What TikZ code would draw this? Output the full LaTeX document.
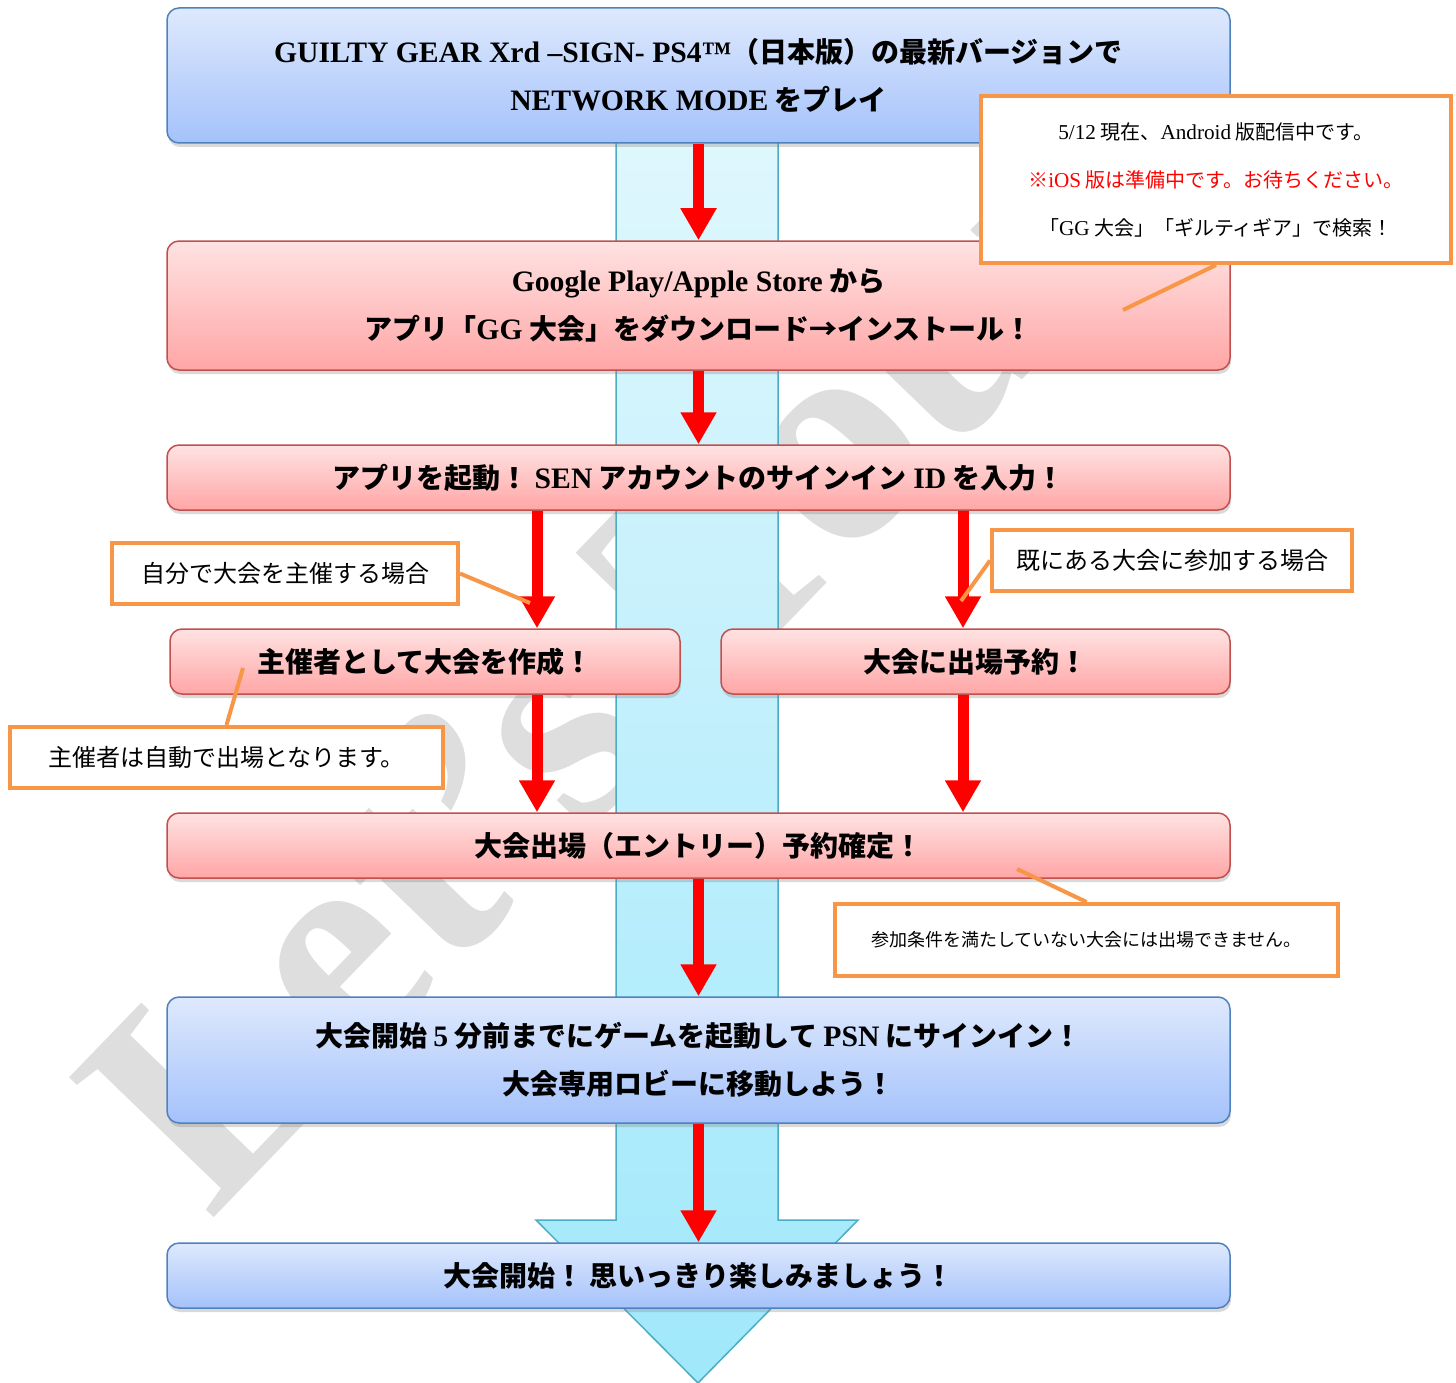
\documentclass[tikz,border=0pt]{standalone}
\usepackage{fontspec}
\setmainfont{Liberation Serif}[Scale=1.06]
\newfontfamily\jp{Noto Sans CJK JP}
\usetikzlibrary{arrows.meta,shadows}
\definecolor{bluetop}{RGB}{222,233,253}
\definecolor{bluebot}{RGB}{164,194,251}
\definecolor{blueline}{RGB}{79,129,189}
\definecolor{pinktop}{RGB}{255,226,226}
\definecolor{pinkbot}{RGB}{255,166,166}
\definecolor{pinkline}{RGB}{192,80,77}
\definecolor{flowtop}{RGB}{224,247,253}
\definecolor{flowbot}{RGB}{160,232,251}
\definecolor{flowline}{RGB}{75,172,198}
\definecolor{noteorange}{RGB}{247,150,70}
\definecolor{wmgray}{RGB}{222,222,222}
\newcommand{\lat}[1]{{\rmfamily #1}}

\begin{document}
\begin{tikzpicture}[x=1pt,y=-1pt]
        \tikzset{box/.style = {rounded corners=12pt,line width=1.5pt,minimum width=1063pt,inner sep=0pt,align=center,font=\jp\bfseries\fontsize{28}{48}\selectfont,drop shadow={opacity=.3,shadow xshift=1pt,shadow yshift=-4pt}}};
        \tikzset{bluebox/.style = {box,draw=blueline,top color=bluetop,bottom color=bluebot}};
        \tikzset{pinkbox/.style = {box,draw=pinkline,top color=pinktop,bottom color=pinkbot}};
        \tikzset{note/.style = {draw=noteorange,line width=4pt,fill=white,inner sep=0pt,align=center,font=\jp\fontsize{24}{48}\selectfont}};
        \tikzset{redarrow/.style = {draw=red,line width=11pt,-{Triangle[width=34pt,length=32pt]}}};
        \tikzset{noteline/.style = {draw=noteorange,line width=4pt}};
        \useasboundingbox (0,0) rectangle (1456,1383);
        % watermark and the big arrow behind everything
        \node[wmgray,rotate=46,anchor=base west,inner sep=0pt,font=\bfseries\fontsize{290}{290}\selectfont] (wm) at (210,1222) {Let's Tour};
        \draw[flowline,line width=1.5pt,top color=flowtop,bottom color=flowbot] (616,120) -- (616,1220) -- (536,1220) -- (698,1383) -- (858,1220) -- (778,1220) -- (778,120) -- cycle;
        % steps
        \node[bluebox,minimum height=135pt] (game) at (698.5,75.5) {\lat{GUILTY GEAR Xrd –SIGN- PS4™}（日本版）の最新バージョンで\\\lat{NETWORK MODE} をプレイ};
        \node[pinkbox,minimum height=129pt] (app) at (698.5,305.5) {\lat{Google Play/Apple Store} から\\アプリ「\lat{GG} 大会」をダウンロード→インストール！};
        \node[pinkbox,minimum height=65pt] (login) at (698.5,477.5) {アプリを起動！ \lat{SEN} アカウントのサインイン \lat{ID} を入力！};
        \node[pinkbox,minimum height=65pt,minimum width=510pt] (host) at (425,661.5) {主催者として大会を作成！};
        \node[pinkbox,minimum height=65pt,minimum width=509pt] (join) at (975.5,661.5) {大会に出場予約！};
        \node[pinkbox,minimum height=65pt] (entry) at (698.5,845.5) {大会出場（エントリー）予約確定！};
        \node[bluebox,minimum height=126pt] (ready) at (698.5,1060) {大会開始 \lat{5} 分前までにゲームを起動して \lat{PSN} にサインイン！\\大会専用ロビーに移動しよう！};
        \node[bluebox,minimum height=65pt] (start) at (698.5,1275.5) {大会開始！ 思いっきり楽しみましょう！};
        % red arrows
        \coordinate (lx) at (537,0);
        \coordinate (rx) at (963,0);
        \draw[redarrow] (game) -- (app);
        \draw[redarrow] (app) -- (login);
        \draw[redarrow] (login.south -| lx) -- (host.north -| lx);
        \draw[redarrow] (login.south -| rx) -- (join.north -| rx);
        \draw[redarrow] (host.south -| lx) -- (entry.north -| lx);
        \draw[redarrow] (join.south -| rx) -- (entry.north -| rx);
        \draw[redarrow] (entry) -- (ready);
        \draw[redarrow] (ready) -- (start);
        % notes
        \node[note,minimum width=470pt,minimum height=167pt,font=\jp\fontsize{20}{48}\selectfont] (store) at (1216,179.5) {\lat{5/12} 現在、\lat{Android} 版配信中です。\\{\color{red}※\lat{iOS} 版は準備中です。お待ちください。}\\「\lat{GG} 大会」「ギルティギア」で検索！};
        \node[note,minimum width=346pt,minimum height=61pt] (self) at (285,573.5) {自分で大会を主催する場合};
        \node[note,minimum width=433pt,minimum height=61pt] (auto) at (226.5,757.5) {主催者は自動で出場となります。};
        \node[note,minimum width=360pt,minimum height=61pt] (other) at (1172,560.5) {既にある大会に参加する場合};
        \node[note,minimum width=503pt,minimum height=72pt,font=\jp\fontsize{18}{24}\selectfont] (cond) at (1086.5,940) {参加条件を満たしていない大会には出場できません。};
        \coordinate (storeend) at (1123,310);
        \coordinate (selfend) at (530,603);
        \coordinate (autoend) at (243,668);
        \coordinate (otherend) at (961,601);
        \coordinate (condend) at (1017,869);
        \draw[noteline] (store.south) -- (storeend);
        \draw[noteline] (self.east) -- (selfend);
        \draw[noteline] (auto.north) -- (autoend);
        \draw[noteline] (other.west) -- (otherend);
        \draw[noteline] (cond.north) -- (condend);
\end{tikzpicture}
\end{document}
